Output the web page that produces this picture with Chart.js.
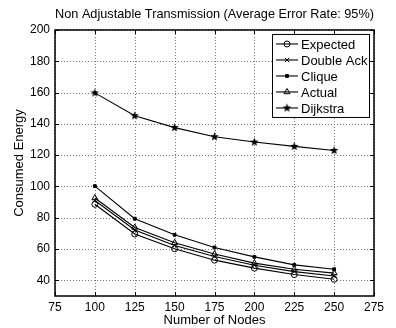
<!DOCTYPE html>
<html>
<head>
<meta charset="utf-8">
<script src="https://cdn.jsdelivr.net/npm/chart.js@4"></script>
<style>
html, body { margin: 0; padding: 0; background: #fff; }
</style>
</head>
<body>
<canvas id="energyChart" width="396" height="328"></canvas>
<script>
// values
const nodes = [100, 125, 150, 175, 200, 225, 250];
const expected = [88.6, 69.6, 60.2, 52.9, 47.8, 43.7, 40.7];
const doubleAck = [91.0, 72.2, 62.3, 55.2, 49.7, 45.6, 42.8];
const clique = [100.2, 79.4, 69.1, 61.0, 55.0, 49.9, 47.1];
const actual = [92.6, 73.8, 64.0, 56.8, 51.0, 47.1, 44.6];
const dijkstra = [159.8, 145.2, 137.6, 131.8, 128.4, 125.6, 123.0];
const xTicks = [75, 100, 125, 150, 175, 200, 225, 250, 275];
const yTicks = [40, 60, 80, 100, 120, 140, 160, 180, 200];

Chart.defaults.font.family = "'Liberation Sans', Arial, Helvetica, sans-serif";
Chart.defaults.font.size = 12;
Chart.defaults.color = "#000";

// filled five point star, used as marker for Dijkstra
function makeStar(r) {
    const c = document.createElement("canvas");
    c.width = c.height = r * 2 + 2;
    const g = c.getContext("2d");
    g.translate(r + 1, r + 1);
    g.beginPath();
    for (let i = 0; i < 10; i++) {
        const rad = i % 2 === 0 ? r : r * 0.42;
        const a = -Math.PI / 2 + i * Math.PI / 5;
        g.lineTo(rad * Math.cos(a), rad * Math.sin(a));
    }
    g.closePath();
    g.fillStyle = "#000";
    g.fill();
    return c;
}
const star = makeStar(4.5);

function series(label, values, style, radius, fill) {
    return {
        label: label,
        data: nodes.map((n, i) => ({ x: n, y: values[i] })),
        borderColor: "#000",
        borderWidth: 1.1,
        pointStyle: style,
        pointRadius: radius,
        pointBorderWidth: 1,
        pointBorderColor: "#000",
        pointBackgroundColor: fill ? "#000" : "rgba(0,0,0,0)",
        tension: 0
    };
}

// dotted grid under the data
const dottedGrid = {
    id: "dottedGrid",
    beforeDatasetsDraw(chart) {
        const { ctx, chartArea: a, scales } = chart;
        ctx.save();
        ctx.strokeStyle = "#777";
        ctx.lineWidth = 1;
        ctx.setLineDash([1, 2]);
        ctx.beginPath();
        scales.x.ticks.forEach(t => {
            const px = Math.round(scales.x.getPixelForValue(t.value)) + 0.5;
            ctx.moveTo(px, a.bottom); ctx.lineTo(px, a.top);
        });
        scales.y.ticks.forEach(t => {
            const py = Math.round(scales.y.getPixelForValue(t.value)) + 0.5;
            ctx.moveTo(a.left, py); ctx.lineTo(a.right, py);
        });
        ctx.stroke();
        ctx.restore();
    }
};

// box, inward ticks (matlab look)
const axesBox = {
    id: "axesBox",
    afterDatasetsDraw(chart) {
        const { ctx, chartArea: a, scales } = chart;
        ctx.save();
        ctx.strokeStyle = "#000";
        ctx.lineWidth = 1;
        ctx.beginPath();
        scales.x.ticks.forEach(t => {
            const px = Math.round(scales.x.getPixelForValue(t.value)) + 0.5;
            ctx.moveTo(px, a.bottom); ctx.lineTo(px, a.bottom - 4);
            ctx.moveTo(px, a.top); ctx.lineTo(px, a.top + 4);
        });
        scales.y.ticks.forEach(t => {
            const py = Math.round(scales.y.getPixelForValue(t.value)) + 0.5;
            ctx.moveTo(a.left, py); ctx.lineTo(a.left + 4, py);
            ctx.moveTo(a.right, py); ctx.lineTo(a.right - 4, py);
        });
        ctx.stroke();
        ctx.lineWidth = 1.5;
        ctx.strokeRect(a.left, a.top, a.right - a.left, a.bottom - a.top);
        ctx.restore();
    }
};

const boxLegend = {
    id: "boxLegend",
    afterDraw(chart) {
        const { ctx, chartArea: a } = chart;
        const w = 97, h = 83;
        const x0 = a.right - 5 - w, y0 = a.top + 4;
        ctx.save();
        ctx.fillStyle = "#fff";
        ctx.fillRect(x0, y0, w, h);
        ctx.strokeStyle = "#000";
        ctx.lineWidth = 1;
        ctx.strokeRect(x0 + 0.5, y0 + 0.5, w, h);
        ctx.font = "13px 'Liberation Sans', Arial, sans-serif";
        ctx.textBaseline = "middle";
        chart.data.datasets.forEach((ds, i) => {
            const y = y0 + 10 + i * 16;
            ctx.strokeStyle = "#000";
            ctx.lineWidth = 1.1;
            ctx.beginPath();
            ctx.moveTo(x0 + 4, y); ctx.lineTo(x0 + 26, y);
            ctx.stroke();
            ctx.fillStyle = ds.pointBackgroundColor;
            ctx.lineWidth = 1;
            Chart.helpers.drawPoint(ctx, {
                pointStyle: ds.pointStyle, radius: ds.pointRadius,
                rotation: 0, borderWidth: 1
            }, x0 + 15, y);
            ctx.fillStyle = "#000";
            ctx.fillText(ds.label, x0 + 29, y + 1);
        });
        ctx.restore();
    }
};

new Chart(document.getElementById("energyChart"), {
    type: "line",
    data: {
        datasets: [
            series("Expected", expected, "circle", 3, false),
            series("Double Ack", doubleAck, "crossRot", 3, false),
            series("Clique", clique, "rect", 2, true),
            series("Actual", actual, "triangle", 3.5, false),
            series("Dijkstra", dijkstra, star, 4.5, true)
        ]
    },
    options: {
        responsive: false,
        animation: false,
        layout: { padding: { left: 0, right: 22, top: 0, bottom: 0 } },
        plugins: {
            legend: { display: false },
            tooltip: { enabled: false },
            title: {
                display: true,
                fullSize: false,
                text: "Non Adjustable Transmission (Average Error Rate: 95%)",
                font: { size: 13.3, weight: "normal" },
                padding: { top: 6, bottom: 8 }
            }
        },
        scales: {
            x: {
                type: "linear",
                min: 75,
                max: 275,
                afterBuildTicks: s => { s.ticks = xTicks.map(v => ({ value: v })); },
                afterFit: s => { s.height = 32; },
                ticks: { padding: 4, maxRotation: 0, autoSkip: false },
                grid: { display: false, drawTicks: false },
                border: { display: false },
                title: { display: true, text: "Number of Nodes", font: { size: 13 }, padding: { top: 0, bottom: 0 } }
            },
            y: {
                min: 30,
                max: 200,
                afterBuildTicks: s => { s.ticks = yTicks.map(v => ({ value: v })); },
                afterFit: s => { s.width = 55; },
                ticks: { padding: 5, autoSkip: false },
                grid: { display: false, drawTicks: false },
                border: { display: false },
                title: { display: true, text: "Consumed Energy", font: { size: 13 }, padding: { top: 12, bottom: 0 } }
            }
        }
    },
    plugins: [dottedGrid, axesBox, boxLegend]
});
</script>
</body>
</html>
